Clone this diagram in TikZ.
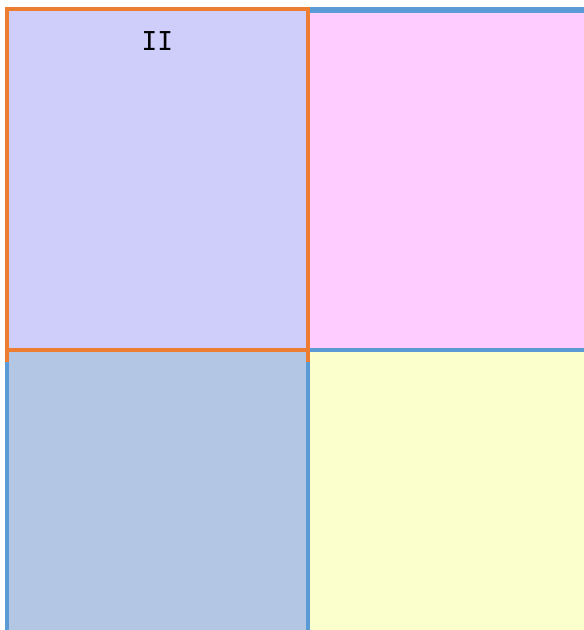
\documentclass[tikz,border=0pt]{standalone}
\usepackage{fontspec}
\usepackage{xcolor}
\usepackage{tikz}
\usetikzlibrary{calc,positioning}
\newfontfamily\codefont{DejaVu Sans Mono}
\definecolor{lavender}{HTML}{CFCEFA}
\definecolor{softpink}{HTML}{FFCCFF}
\definecolor{slateblue}{HTML}{B3C7E4}
\definecolor{paleyellow}{HTML}{FAFFCC}
\definecolor{edgeblue}{HTML}{5B9BD5}
\definecolor{edgeorange}{HTML}{ED7D31}

\begin{document}
\begin{tikzpicture}[x=1pt,y=-1pt,
  bline/.style={draw=edgeblue,line width=4pt},
  oline/.style={draw=edgeorange,line width=4pt},
  lab/.style={font=\codefont\fontsize{26}{28}\selectfont,inner sep=0pt}
]
\useasboundingbox (0,0) rectangle (584,630);
% corners of the grid
\coordinate (tl) at (7,9);
\coordinate (tm) at (308,10);
\coordinate (tr) at (584,10);
\coordinate (ml) at (7,350);
\coordinate (mm) at (308,350);
\coordinate (mr) at (584,350);
\coordinate (bl) at (7,630);
\coordinate (bm) at (308,630);
\coordinate (br) at (584,630);
% the four cells
\fill[lavender] (tl) rectangle (mm);
\fill[softpink] (tm) rectangle (mr);
\fill[slateblue] (ml) rectangle (bm);
\fill[paleyellow] (mm) rectangle (br);
% blue frame
\draw[bline,line width=5.5pt] (tm) -- (tr);
\draw[bline] (mm) -- (mr);
\draw[bline] (mm) -- (bm);
\draw[bline] ($(ml)+(0,10)$) -- (bl);
% orange frame round the selected cell
\draw[oline] ($(ml)+(0,12)$) -- (tl) -- (tl -| mm) -- ($(mm)+(0,12)$);
\draw[oline] (ml) -- (mm);
\node[lab,line width=0.35pt,draw=none] (name) at (157.3,41.5) {II};
\end{tikzpicture}
\end{document}
